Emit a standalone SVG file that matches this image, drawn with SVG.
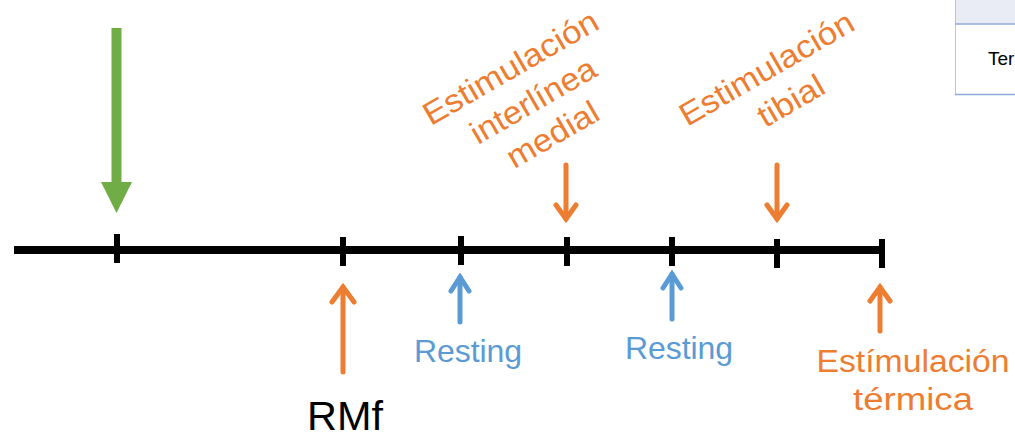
<svg xmlns="http://www.w3.org/2000/svg" width="1015" height="439" viewBox="0 0 1015 439">
  <style>
    .lbl { font-family: "Liberation Sans", Arial, sans-serif; }
    .or { fill: #ED7D31; }
    .bl { fill: #5B9BD5; }
    .blk { fill: #000000; }
    .arr { fill: none; stroke-width: 5; stroke-linecap: round; stroke-linejoin: miter; }
    .arr-or { stroke: #ED7D31; }
    .arr-bl { stroke: #5B9BD5; }
    .tick { fill: #000000; }
  </style>
  <rect width="1015" height="439" fill="#FFFFFF"/>

  <!-- partial table in the top-right corner -->
  <g id="table-fragment">
    <rect x="955" y="0" width="60" height="24" fill="#E9EBF5"/>
    <line x1="955.5" y1="0" x2="955.5" y2="95" stroke="#B4C7E7" stroke-width="1"/>
    <line x1="955" y1="24" x2="1015" y2="24" stroke="#8FAADC" stroke-width="1.5"/>
    <line x1="955" y1="94.5" x2="1015" y2="94.5" stroke="#8FAADC" stroke-width="1.5"/>
    <text class="lbl" x="988" y="65" font-size="19" fill="#000000">Ter</text>
  </g>

  <!-- timeline -->
  <g id="timeline">
    <rect x="14" y="246" width="871" height="8" fill="#000000"/>
    <rect class="tick" x="114" y="234" width="6" height="29"/>
    <rect class="tick" x="340" y="237" width="6" height="29"/>
    <rect class="tick" x="458" y="236" width="6" height="29"/>
    <rect class="tick" x="564" y="237" width="6" height="29"/>
    <rect class="tick" x="669" y="237" width="6" height="29"/>
    <rect class="tick" x="774" y="239" width="6" height="29"/>
    <rect class="tick" x="879" y="239" width="6" height="29"/>
  </g>

  <g id="connectors">
    <!-- green start arrow -->
    <polygon fill="#70AD47" points="111.5,28 121.5,28 121.5,182 132,182 116.5,213 101,182 111.5,182"/>
    <!-- RMf up arrow -->
    <g class="arr arr-or">
      <line x1="343" y1="372" x2="343" y2="287"/>
      <polyline points="332,302 343,287 354,302"/>
    </g>
    <!-- Resting 1 -->
    <g class="arr arr-bl">
      <line x1="460" y1="322" x2="460" y2="277"/>
      <polyline points="451,291 460,277 469,291"/>
    </g>
    <!-- Resting 2 -->
    <g class="arr arr-bl">
      <line x1="672" y1="319" x2="672" y2="274"/>
      <polyline points="663,288 672,274 681,288"/>
    </g>
    <!-- Estimulación interlínea medial down arrow -->
    <g class="arr arr-or">
      <line x1="566" y1="165" x2="566" y2="219"/>
      <polyline points="556,205 566,219 576,205"/>
    </g>
    <!-- Estimulación tibial down arrow -->
    <g class="arr arr-or">
      <line x1="777" y1="165" x2="777" y2="219"/>
      <polyline points="767,205 777,219 787,205"/>
    </g>
    <!-- Estímulación térmica up arrow -->
    <g class="arr arr-or">
      <line x1="880" y1="331" x2="880" y2="287"/>
      <polyline points="870,301 880,287 890,301"/>
    </g>
  </g>

  <g id="node-rmf">
    <text class="lbl blk" x="307" y="430" font-size="40" textLength="76" lengthAdjust="spacingAndGlyphs">RMf</text>
  </g>

  <g id="node-resting-1">
    <text class="lbl bl" x="414" y="362" font-size="32" textLength="108">Resting</text>
  </g>

  <g id="node-resting-2">
    <text class="lbl bl" x="625" y="359" font-size="32" textLength="108">Resting</text>
  </g>

  <g id="node-interlinea" transform="translate(516,77) rotate(-30)">
    <text class="lbl or" x="0" y="0" font-size="32" text-anchor="middle" textLength="197" lengthAdjust="spacingAndGlyphs">Estimulación</text>
    <text class="lbl or" x="3" y="40" font-size="32" text-anchor="middle" textLength="140" lengthAdjust="spacingAndGlyphs">interlínea</text>
    <text class="lbl or" x="3" y="79" font-size="32" text-anchor="middle" textLength="101" lengthAdjust="spacingAndGlyphs">medial</text>
  </g>

  <g id="node-tibial" transform="translate(772,78) rotate(-30)">
    <text class="lbl or" x="0" y="0" font-size="32" text-anchor="middle" textLength="196" lengthAdjust="spacingAndGlyphs">Estimulación</text>
    <text class="lbl or" x="5" y="40" font-size="32" text-anchor="middle" textLength="72" lengthAdjust="spacingAndGlyphs">tibial</text>
  </g>

  <g id="node-termica">
    <text class="lbl or" x="913" y="372" font-size="31" text-anchor="middle" textLength="193" lengthAdjust="spacingAndGlyphs">Estímulación</text>
    <text class="lbl or" x="913" y="410" font-size="31" text-anchor="middle" textLength="120" lengthAdjust="spacingAndGlyphs">térmica</text>
  </g>
</svg>
